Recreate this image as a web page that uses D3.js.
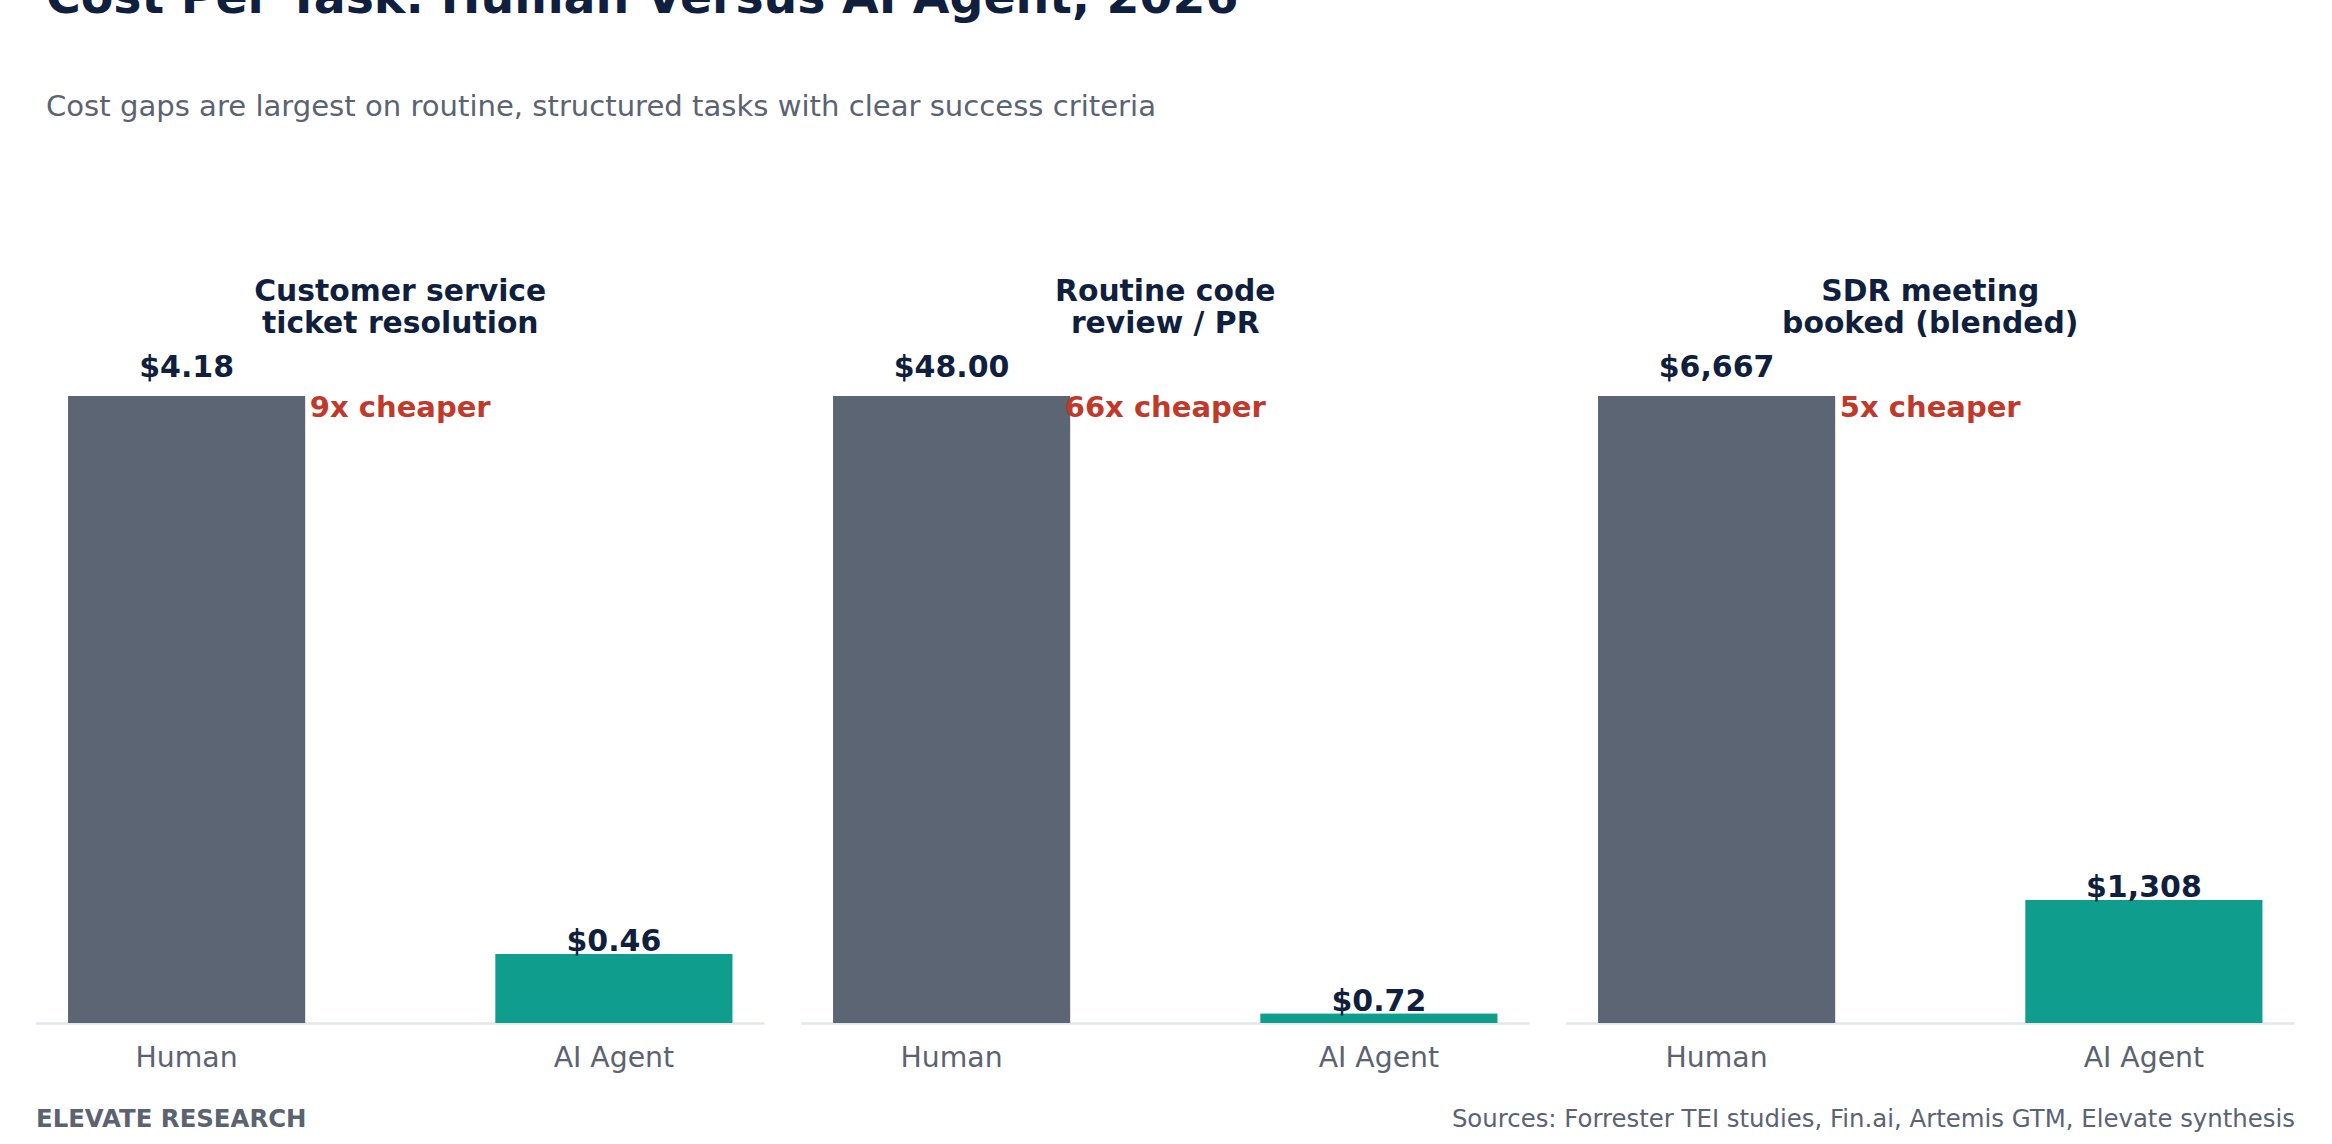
<!DOCTYPE html>
<html>
<head>
<meta charset="utf-8">
<script src="https://cdn.jsdelivr.net/npm/d3@7"></script>
<style>
  html, body { margin: 0; padding: 0; background: #ffffff; }
  svg { display: block; font-family: "DejaVu Sans", sans-serif; }
</style>
</head>
<body>
<svg id="chart" width="2332" height="1144"></svg>
<script>
// ---- Data ----
const panelTitles = [
  ["Customer service", "ticket resolution"],
  ["Routine code", "review / PR"],
  ["SDR meeting", "booked (blended)"]
];
const categories = ["Human", "AI Agent"];
const humanCost = [4.18, 48.00, 6667];
const aiCost = [0.46, 0.72, 1308];
const humanLabels = ["$4.18", "$48.00", "$6,667"];
const aiLabels = ["$0.46", "$0.72", "$1,308"];
const ratioLabels = ["9x cheaper", "66x cheaper", "5x cheaper"];

// ---- Styles ----
const W = 2332, H = 1144;
const navy = "#0f1f3d", gray = "#5b6373", red = "#c0392b";
const humanColor = "#5c6573", aiColor = "#0f9d8e", axisColor = "#e3e7ec";
const baseY = 1023, topY = 396;

const svg = d3.select("#chart");

// Title & subtitle
svg.append("text").attr("x", 46).attr("y", 13)
  .attr("font-size", 47.4).attr("font-weight", "bold").attr("fill", navy)
  .text("Cost Per Task: Human Versus AI Agent, 2026");
svg.append("text").attr("x", 46).attr("y", 116)
  .attr("font-size", 29.1).attr("fill", gray)
  .text("Cost gaps are largest on routine, structured tasks with clear success criteria");

// Panel scale
const panelX = d3.scaleBand().domain(d3.range(panelTitles.length))
  .range([36, 2294.5]).paddingInner(0.0477).paddingOuter(0);

const x = d3.scaleBand().domain(categories)
  .range([0, panelX.bandwidth()]).paddingInner(0.445).paddingOuter(0.075);

panelTitles.forEach((title, i) => {
  const g = svg.append("g").attr("transform", `translate(${panelX(i)},0)`);
  const cx = panelX.bandwidth() / 2;
  const vals = [humanCost[i], aiCost[i]];
  const labs = [humanLabels[i], aiLabels[i]];
  const y = d3.scaleLinear().domain([0, humanCost[i]]).range([baseY, topY]);

  // baseline
  g.append("line").attr("x1", 0).attr("x2", panelX.bandwidth())
    .attr("y1", baseY + 0.5).attr("y2", baseY + 0.5)
    .attr("stroke", axisColor).attr("stroke-width", 2.5);

  // bars
  g.selectAll("rect.bar").data(categories).join("rect")
    .attr("class", "bar")
    .attr("x", d => x(d))
    .attr("width", x.bandwidth())
    .attr("y", (d, j) => y(vals[j]))
    .attr("height", (d, j) => baseY - y(vals[j]))
    .attr("fill", (d, j) => j === 0 ? humanColor : aiColor);

  // value labels
  g.selectAll("text.val").data(categories).join("text")
    .attr("class", "val")
    .attr("x", d => x(d) + x.bandwidth() / 2)
    .attr("y", (d, j) => y(vals[j]) - (j === 0 ? 19 : 3))
    .attr("text-anchor", "middle")
    .attr("font-size", 30).attr("font-weight", "bold").attr("fill", navy)
    .text((d, j) => labs[j]);

  // tick labels
  const axis = d3.axisBottom(x).tickSize(0).tickPadding(0);
  const ag = g.append("g").attr("transform", `translate(0,${baseY})`).call(axis);
  ag.select(".domain").remove();
  ag.selectAll("text")
    .attr("y", 44).attr("dy", null)
    .attr("font-size", 28.3).attr("fill", gray)
    .attr("font-family", "DejaVu Sans, sans-serif");

  // panel title
  const t = g.append("text").attr("text-anchor", "middle")
    .attr("font-size", 29.8).attr("font-weight", "bold").attr("fill", navy);
  title.forEach((line, k) => {
    t.append("tspan").attr("x", cx).attr("y", 301 + k * 32).text(line);
  });

  // ratio
  g.append("text").attr("x", cx).attr("y", 417)
    .attr("text-anchor", "middle")
    .attr("font-size", 29).attr("font-weight", "bold").attr("fill", red)
    .text(ratioLabels[i]);
});

// Footer
svg.append("text").attr("x", 36).attr("y", 1127)
  .attr("font-size", 24.4).attr("font-weight", "bold").attr("fill", gray)
  .text("ELEVATE RESEARCH");
svg.append("text").attr("x", 2295).attr("y", 1127)
  .attr("text-anchor", "end")
  .attr("font-size", 24.4).attr("fill", gray)
  .text("Sources: Forrester TEI studies, Fin.ai, Artemis GTM, Elevate synthesis");
</script>
</body>
</html>
